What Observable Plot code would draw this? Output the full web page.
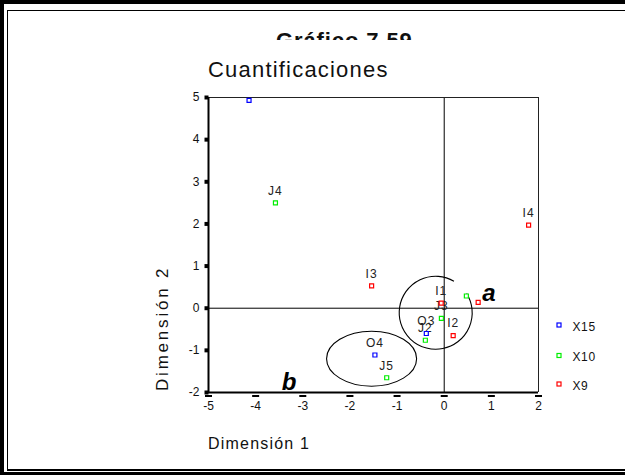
<!DOCTYPE html>
<html><head><meta charset="utf-8">
<script src="https://cdn.jsdelivr.net/npm/d3@7"></script>
<script src="https://cdn.jsdelivr.net/npm/@observablehq/plot@0.6"></script>
<style>
body{margin:0;background:#fff;}
#wrap{position:relative;width:625px;height:475px;overflow:hidden;background:#fff;font-family:Arial,"Liberation Sans",sans-serif;color:#111;}
.b{position:absolute;background:#000;}
#chart{position:absolute;left:0;top:0;}
#titleclip{position:absolute;left:0;top:0;width:625px;height:40px;overflow:hidden;}
#title{position:absolute;left:276px;top:30px;font-size:22px;line-height:22px;font-weight:bold;letter-spacing:0.9px;white-space:nowrap;}
#subtitle{position:absolute;left:208px;top:58.7px;font-size:22px;line-height:22px;letter-spacing:1.2px;white-space:nowrap;}
#xlab{position:absolute;left:208px;top:436px;font-size:16px;line-height:16px;letter-spacing:1.2px;white-space:nowrap;}
#ylab{position:absolute;left:154px;top:391px;font-size:17px;line-height:17px;letter-spacing:2.8px;white-space:nowrap;transform-origin:0 0;transform:rotate(-90deg);}
.lg{position:absolute;font-size:12px;line-height:12px;letter-spacing:0.6px;white-space:nowrap;}
#legsvg{position:absolute;left:550px;top:315px;}
.chart g[aria-label="text"] text{letter-spacing:1px;}
</style></head><body>
<div id="wrap">
  <div class="b" style="left:0;top:0;width:625px;height:3.5px"></div>
  <div class="b" style="left:0;top:0;width:3.5px;height:475px"></div>
  <div class="b" style="left:0;top:472px;width:625px;height:3px"></div>
  <div class="b" style="left:7px;top:10px;width:618px;height:1px"></div>
  <div class="b" style="left:7px;top:10px;width:1px;height:460px"></div>
  <div class="b" style="left:7px;top:469px;width:618px;height:1.5px"></div>
  <div id="chart"></div>
  <div id="titleclip"><div id="title">Gráfico 7.59</div></div>
  <div id="subtitle">Cuantificaciones</div>
  <div id="xlab">Dimensión 1</div>
  <div id="ylab">Dimensión 2</div>
  <div id="legend"></div>
</div>
<script>
// ---- data ----
const seriesNames = ["X15", "X10", "X9"];
const seriesColors = ["#0000ff", "#00ee00", "#ff0000"];

const x15X = [-4.14, -0.38, -1.47];
const x15Y = [4.93, -0.60, -1.11];
const x15Lab = ["", "O3", "O4"];

const x10X = [-3.58, 0.47, -0.06, -0.40, -1.22];
const x10Y = [2.50, 0.29, -0.24, -0.76, -1.65];
const x10Lab = ["J4", "", "J3", "J2", "J5"];

const x9X = [1.79, -1.54, -0.064, 0.72, 0.19];
const x9Y = [1.97, 0.53, 0.12, 0.14, -0.65];
const x9Lab = ["I4", "I3", "I1", "", "I2"];

const xTicks = [-5, -4, -3, -2, -1, 0, 1, 2];
const yTicks = [-2, -1, 0, 1, 2, 3, 4, 5];

// annotations: ellipse b [cx, cy, rx, ry]; arc a [cx, cy, rx, ry, startDeg, endDeg]
const ellipseB = [-1.53, -1.21, 0.955, 0.652];
const arcA = [-0.17, -0.12, 0.774, 0.866, -32, 300];
const annText = ["a", "b"];
const annX = [0.96, -3.28];
const annY = [0.36, -1.77];

// ---- build ----
const pts = [];
function addSeries(name, xs, ys, labs) {
  xs.forEach((x, i) => pts.push({series: name, x, y: ys[i], label: labs[i]}));
}
addSeries("X15", x15X, x15Y, x15Lab);
addSeries("X10", x10X, x10Y, x10Lab);
addSeries("X9", x9X, x9Y, x9Lab);
const ann = annText.map((t, i) => ({t, x: annX[i], y: annY[i]}));

const sq = s => ({draw(c) { c.rect(-s / 2, -s / 2, s, s); }});
const dash = {draw(c) { c.rect(-3.5, -1, 7, 2); }};

function ellipseMark(index, {x, y}) {
  const g = d3.create("svg:g");
  const cx = x(ellipseB[0]), cy = y(ellipseB[1]);
  const rx = x(ellipseB[0] + ellipseB[2]) - cx, ry = cy - y(ellipseB[1] + ellipseB[3]);
  g.append("ellipse").attr("cx", cx).attr("cy", cy).attr("rx", rx).attr("ry", ry)
    .attr("fill", "none").attr("stroke", "#000").attr("stroke-width", 1.1);
  return g.node();
}
function arcMark(index, {x, y}) {
  const g = d3.create("svg:g");
  const cx = x(arcA[0]), cy = y(arcA[1]);
  const rx = x(arcA[0] + arcA[2]) - cx, ry = cy - y(arcA[1] + arcA[3]);
  const a0 = arcA[4] * Math.PI / 180, a1 = arcA[5] * Math.PI / 180;
  const x0 = cx + rx * Math.cos(a0), y0 = cy + ry * Math.sin(a0);
  const x1 = cx + rx * Math.cos(a1), y1 = cy + ry * Math.sin(a1);
  g.append("path").attr("d", `M${x0},${y0}A${rx},${ry} 0 1 1 ${x1},${y1}`)
    .attr("fill", "none").attr("stroke", "#000").attr("stroke-width", 1.1);
  return g.node();
}

const fmt = d => String(d);

const chart = Plot.plot({
  width: 625, height: 475,
  marginLeft: 208, marginRight: 87, marginTop: 97, marginBottom: 83,
  className: "chart",
  style: {background: "transparent", fontFamily: "Arial, 'Liberation Sans', sans-serif", color: "#111"},
  x: {domain: [-5, 2]},
  y: {domain: [-2, 5]},
  color: {domain: seriesNames, range: seriesColors},
  marks: [
    Plot.ruleY([0], {stroke: "#000", strokeWidth: 1}),
    Plot.ruleX([0], {stroke: "#000", strokeWidth: 1}),
    Plot.ruleY([5], {stroke: "#222", strokeWidth: 1}),
    Plot.ruleX([2], {stroke: "#222", strokeWidth: 1}),
    Plot.ruleX([-5], {stroke: "#000", strokeWidth: 2}),
    Plot.ruleY([-2], {stroke: "#000", strokeWidth: 2}),
    ellipseMark,
    arcMark,
    Plot.dot(yTicks, {y: d => d, frameAnchor: "left", dx: -2, symbol: sq(4), fill: "#000", r: 2}),
    Plot.dot(xTicks, {x: d => d, frameAnchor: "bottom", dy: 3.5, symbol: dash, fill: "#000", r: 2}),
    Plot.axisX(xTicks, {tickSize: 0, tickPadding: 9, fontSize: 12, label: null, anchor: "bottom", tickFormat: fmt, fill: "#111"}),
    Plot.axisY(yTicks, {tickSize: 0, tickPadding: 9, fontSize: 12, label: null, anchor: "left", tickFormat: fmt, fill: "#111"}),
    Plot.text(pts.filter(d => d.label), {x: "x", y: "y", text: "label", dy: -12, fontSize: 12, fill: "#222"}),
    Plot.dot(pts, {x: "x", y: "y", stroke: "series", fill: "#fff", symbol: sq(4), strokeWidth: 1.2, r: 2}),
    Plot.text(ann, {x: "x", y: "y", text: "t", fontSize: 24, fontWeight: "bold", fontStyle: "italic", fill: "#000"})
  ]
});
document.getElementById("chart").appendChild(chart);

// legend (outside the plot area, right side)
const legend = document.getElementById("legend");
const legY = [325, 355.5, 384];
const ns = "http://www.w3.org/2000/svg";
const lsvg = document.createElementNS(ns, "svg");
lsvg.setAttribute("id", "legsvg");
lsvg.setAttribute("width", 20); lsvg.setAttribute("height", 80);
seriesNames.forEach((n, i) => {
  const r = document.createElementNS(ns, "rect");
  r.setAttribute("x", 7); r.setAttribute("y", legY[i] - 315 - 2);
  r.setAttribute("width", 4); r.setAttribute("height", 4);
  r.setAttribute("fill", "#fff"); r.setAttribute("stroke", seriesColors[i]); r.setAttribute("stroke-width", 1.2);
  lsvg.appendChild(r);
  const t = document.createElement("div");
  t.className = "lg"; t.textContent = n;
  t.style.left = "572.5px"; t.style.top = (legY[i] - 4.5) + "px";
  legend.appendChild(t);
});
legend.appendChild(lsvg);
</script>
</body></html>
